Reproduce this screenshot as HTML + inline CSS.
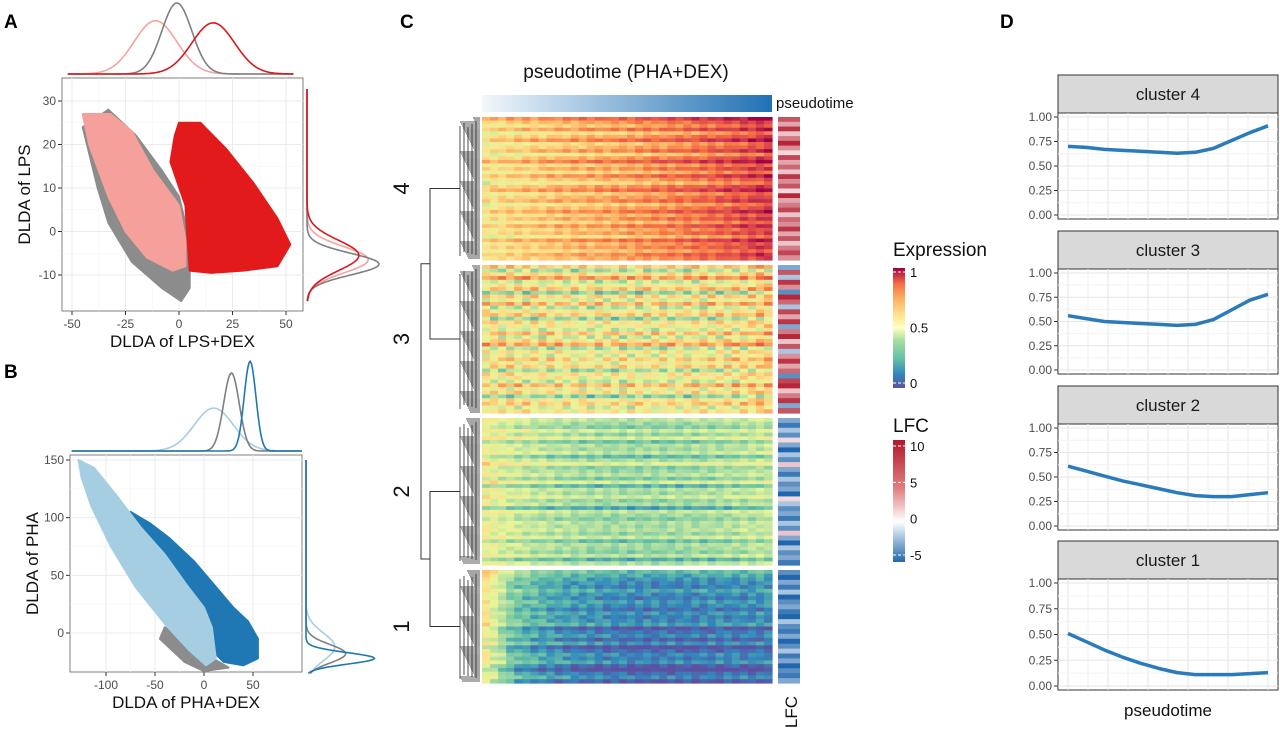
<!DOCTYPE html>
<html><head><meta charset="utf-8">
<style>
body{margin:0;background:#fff;font-family:"Liberation Sans",sans-serif;}
svg{display:block}
</style></head>
<body>
<svg id="fig" width="1280" height="733" viewBox="0 0 1280 733" xmlns="http://www.w3.org/2000/svg" font-family="Liberation Sans, sans-serif">
<g id="A"></g>
<g id="B"></g>
<g id="C"></g>
<g id="D"></g>
</svg>
<script>
// ---------- DATA ----------
const aGreyHull=[[-33,28],[-20,22],[-8,14],[0,8],[5,-2],[5,-13],[1,-16],[-8,-13],[-22,-7],[-33,2],[-38,10],[-45,24]];
const aPinkHull=[[-45,27],[-32,27],[-22,23],[-12,14],[0,6],[3,-2],[3,-8],[-3,-9],[-15,-6],[-25,0],[-33,8],[-42,20]];
const aRedHull=[[-2,22],[0,25],[10,25],[22,19],[35,11],[46,3],[52,-3],[46,-8],[30,-9],[15,-9.5],[5,-9],[4,-2],[3,6],[-4,16]];
const aTopDens={grey:[-1,7,1.0],pink:[-11,10,0.75],red:[16,10,0.72]};
const aRightDens={grey:[-7.5,2.5,1.0],pink:[-6.5,3,0.85],red:[-5.5,3.5,0.72]};
const aXTicks=[-50,-25,0,25,50], aYTicks=[-10,0,10,20,30];
const bGreyHull=[[-40,5],[-15,-8],[5,-20],[25,-30],[0,-33],[-20,-25],[-45,-5]];
const bBlueHull=[[-75,105],[-55,95],[-35,82],[-10,62],[10,42],[30,22],[45,10],[55,-5],[55,-22],[40,-28],[20,-25],[8,-15],[-5,-2],[-25,20],[-50,50],[-65,80]];
const bLightHull=[[-128,150],[-112,143],[-90,120],[-65,92],[-40,68],[-18,42],[0,22],[8,5],[12,-22],[2,-28],[-15,-15],[-40,8],[-70,40],[-95,75],[-115,110],[-125,135]];
const bTopDens={grey:[28,8,1.0],light:[10,20,0.55],blue:[47,6,1.15]};
const bRightDens={grey:[-18,8,0.55],light:[-12,12,0.4],blue:[-22,5,0.95]};
const bXTicks=[-100,-50,0,50], bYTicks=[0,50,100,150];
const clusterNames=["4","3","2","1"];
const colProfiles=[
 [0.5,0.54,0.57,0.6,0.62,0.64,0.67,0.7,0.73,0.77,0.81,0.86],
 [0.5,0.5,0.49,0.48,0.47,0.47,0.48,0.48,0.49,0.5,0.52,0.58],
 [0.46,0.4,0.36,0.34,0.32,0.31,0.31,0.31,0.32,0.33,0.35,0.37],
 [0.52,0.27,0.2,0.16,0.14,0.12,0.11,0.11,0.11,0.12,0.12,0.13]];
const rowOffsets=[
 [0.15,0.05,-0.02,0.1,-0.08,0.02,0.12,-0.05,0.0,0.08,-0.1,0.04,0.14,-0.03,0.06,-0.06,0.1,0.0,-0.09,0.05,0.12,-0.04,0.03,0.08,-0.07,0.02,0.1,-0.02,0.06,-0.05,0.09,-0.01,0.04,-0.08,0.11,0.0,0.05,-0.04,0.07,0.02],
 [0.1,-0.15,0.05,0.2,-0.1,0.0,0.12,-0.2,0.08,-0.05,0.15,-0.12,0.02,0.1,-0.18,0.05,0.0,-0.08,0.12,-0.1,0.06,0.18,-0.14,0.03,-0.06,0.1,-0.02,0.08,-0.16,0.04,0.0,-0.1,0.14,-0.04,0.06,-0.2,0.02,0.09,-0.07,0.03],
 [0.05,0.0,-0.05,0.08,-0.02,0.1,-0.08,0.03,0.0,0.06,-0.1,0.02,0.12,-0.04,0.0,0.05,-0.06,0.1,-0.12,0.04,0.0,0.08,-0.03,0.02,-0.15,0.06,0.0,-0.05,0.03,0.01,0.04,-0.02,0.07,-0.09,0.02,0.0,-0.04,0.05,-0.13,0.03],
 [0.1,0.06,0.02,0.0,-0.02,0.05,0.0,-0.03,0.03,0.0,-0.05,0.02,-0.02,0.0,0.04,-0.1,-0.04,0.0,-0.08,0.02,-0.12,-0.06,0.0,-0.03,0.02,-0.09,-0.14,-0.05,0.0,-0.1]];
const colNoise=[0.0,0.04,-0.03,0.05,-0.02,0.03,-0.05,0.02,0.0,-0.04,0.03,-0.01,0.05,-0.03,0.02,0.0,-0.02,0.04,-0.05,0.01,0.03,-0.02,0.0,0.04,-0.03,0.02,0.05,-0.04,0.01,-0.02,0.03,0.0,-0.05,0.02,0.04,-0.01];
const lfcRows=[
 [6,2,8,1,4,9,3,0.5,7,2,5,1,8,3,6,0.5,9,2,4,7,1,5,3,8,2,6,1,4,7,3],
 [-2,6,-1,8,3,-3,9,5,-1,7,2,8,-2,4,9,1,6,-1,3,8,2,5,-3,7,9,1,4,8,-2,6],
 [-2,-4,-1,-3,0.5,-2,-5,-1,-3,1,-2,-4,-1,-3,-2,-5,0.5,-1,-3,-2,-4,-1,-3,1,-2,-5,-1,-3,-2,-4],
 [-3,-5,-2,-4,-1,-5,-3,-2,-4,-5,-1,-3,-4,-2,-5,-3,-1,-4,-2,-5,-3,-4,-2]];
const exprTicks=[0,0.5,1], lfcTicks=[-5,0,5,10];
const dClusters=["cluster 4","cluster 3","cluster 2","cluster 1"];
const dCurves=[
 [0.70,0.69,0.67,0.66,0.65,0.64,0.63,0.64,0.68,0.76,0.84,0.91],
 [0.56,0.53,0.50,0.49,0.48,0.47,0.46,0.47,0.52,0.62,0.72,0.78],
 [0.61,0.56,0.51,0.46,0.42,0.38,0.34,0.31,0.30,0.30,0.32,0.34],
 [0.51,0.43,0.35,0.28,0.22,0.17,0.13,0.11,0.11,0.11,0.12,0.13]];
const dYTicks=[0,0.25,0.5,0.75,1];

// ---------- HELPERS ----------
const NS="http://www.w3.org/2000/svg";
function mk(parent,tag,attrs,text){const e=document.createElementNS(NS,tag);for(const k in attrs)e.setAttribute(k,attrs[k]);if(text!==undefined)e.textContent=text;parent.appendChild(e);return e;}
function lin(d0,d1,r0,r1){return v=>r0+(v-d0)/(d1-d0)*(r1-r0);}
function gauss(x,m,s){return Math.exp(-0.5*((x-m)/s)**2);}
function spectral(v){
 const st=[[94,79,162],[50,136,189],[102,194,165],[171,221,164],[230,245,152],[254,224,139],[253,174,97],[244,109,67],[213,62,79],[158,1,66]];
 v=Math.max(0,Math.min(1,v))*(st.length-1);const i=Math.min(st.length-2,Math.floor(v)),f=v-i;
 const c=st[i].map((a,j)=>Math.round(a+(st[i+1][j]-a)*f));return `rgb(${c})`;}
function lfcColor(v){
 if(v>=0){const f=Math.min(1,v/10);const a=[255,255,255],b=[178,24,43];return `rgb(${a.map((x,j)=>Math.round(x+(b[j]-x)*Math.pow(f,0.6)))})`;}
 const f=Math.min(1,-v/5);const a=[255,255,255],b=[33,102,172];return `rgb(${a.map((x,j)=>Math.round(x+(b[j]-x)*Math.pow(f,0.6)))})`;}

function scatterPanel(g,o){
 const bg=mk(g,'rect',{x:o.x0,y:o.y0,width:o.x1-o.x0,height:o.y1-o.y0,fill:'#fff',stroke:'#7f7f7f','stroke-width':1});
 
 const sx=lin(o.xd[0],o.xd[1],o.xr[0],o.xr[1]), sy=lin(o.yd[0],o.yd[1],o.yr[0],o.yr[1]);
 o.xt.forEach((t,i)=>{mk(g,'line',{x1:sx(t),x2:sx(t),y1:o.y0,y2:o.y1,stroke:'#ebebeb','stroke-width':1});
   if(i<o.xt.length-1){const m=(t+o.xt[i+1])/2;mk(g,'line',{x1:sx(m),x2:sx(m),y1:o.y0,y2:o.y1,stroke:'#f4f4f4','stroke-width':0.6});}});
 o.yt.forEach((t,i)=>{mk(g,'line',{x1:o.x0,x2:o.x1,y1:sy(t),y2:sy(t),stroke:'#ebebeb','stroke-width':1});
   if(i<o.yt.length-1){const m=(t+o.yt[i+1])/2;mk(g,'line',{x1:o.x0,x2:o.x1,y1:sy(m),y2:sy(m),stroke:'#f4f4f4','stroke-width':0.6});}});
 o.clouds.forEach(c=>{const p=mk(g,'polygon',{points:c.hull.map(q=>sx(q[0])+','+sy(q[1])).join(' '),fill:c.col,stroke:c.col,'stroke-width':2,'stroke-linejoin':'round'});
   });
 o.xt.forEach(t=>{mk(g,'line',{x1:sx(t),x2:sx(t),y1:o.y1,y2:o.y1+4,stroke:'#333'});
   const tx=mk(g,'text',{x:sx(t),y:o.y1+17,'text-anchor':'middle','font-size':12,fill:'#4d4d4d'},String(t));
   });
 o.yt.forEach(t=>{mk(g,'line',{x1:o.x0-4,x2:o.x0,y1:sy(t),y2:sy(t),stroke:'#333'});
   const tx=mk(g,'text',{x:o.x0-6,y:sy(t)+4,'text-anchor':'end','font-size':12,fill:'#4d4d4d'},String(t));
   });
 const xl=mk(g,'text',{x:(o.x0+o.x1)/2,y:o.y1+36,'text-anchor':'middle','font-size':17,fill:'#111'},o.xlab);
 
 const yl=mk(g,'text',{x:0,y:0,'text-anchor':'middle','font-size':17,fill:'#111',transform:`translate(${o.x0-32},${(o.y0+o.y1)/2}) rotate(-90)`},o.ylab);
 
 const topBase=o.y0-4, H=o.y0-o.topTop-4;
 o.topD.forEach(d=>{let pts=[];for(let v=o.tr[0];v<=o.tr[1];v+=(o.tr[1]-o.tr[0])/200){pts.push(sx(v)+','+(topBase-d.p[2]*H*gauss(v,d.p[0],d.p[1])));}
   const l=mk(g,'polyline',{points:pts.join(' '),fill:'none',stroke:d.col,'stroke-width':1.6});
   });
 const rBase=o.x1+4, W=o.rightW;
 o.rightD.forEach(d=>{let pts=[];for(let v=o.rr[0];v<=o.rr[1];v+=(o.rr[1]-o.rr[0])/200){pts.push((rBase+d.p[2]*W*gauss(v,d.p[0],d.p[1]))+','+sy(v));}
   const l=mk(g,'polyline',{points:pts.join(' '),fill:'none',stroke:d.col,'stroke-width':1.6});
   });
}

const A=document.getElementById('A');
scatterPanel(A,{x0:62,x1:303,y0:78,y1:311,xd:[-50,50],xr:[72,286],yd:[-10,30],yr:[275,101],xt:aXTicks,yt:aYTicks,
 clouds:[{hull:aGreyHull,col:'#8c8c8c',name:'cloud-grey'},{hull:aPinkHull,col:'#f5a09a',name:'cloud-lps'},{hull:aRedHull,col:'#e31a1c',name:'cloud-lps-dex'}],
 xlab:'DLDA of LPS+DEX',ylab:'DLDA of LPS',topTop:3,rightW:72,tr:[-52,54],rr:[-16,33],
 topD:[{p:aTopDens.pink,col:'#f4a3a0',name:'lps'},{p:aTopDens.grey,col:'#7f7f7f',name:'grey'},{p:aTopDens.red,col:'#d7191c',name:'lps-dex'}],
 rightD:[{p:aRightDens.pink,col:'#f4a3a0',name:'lps'},{p:aRightDens.grey,col:'#7f7f7f',name:'grey'},{p:aRightDens.red,col:'#d7191c',name:'lps-dex'}]});
mk(A,'text',{x:4,y:28,'font-size':19,'font-weight':'bold'},'A');
const B=document.getElementById('B');
scatterPanel(B,{x0:70,x1:302,y0:455,y1:672,xd:[-100,50],xr:[106,253],yd:[0,150],yr:[633,460],xt:bXTicks,yt:bYTicks,
 clouds:[{hull:bGreyHull,col:'#8c8c8c',name:'cloud-grey'},{hull:bBlueHull,col:'#1f78b4',name:'cloud-pha-dex'},{hull:bLightHull,col:'#a6cee3',name:'cloud-pha'}],
 xlab:'DLDA of PHA+DEX',ylab:'DLDA of PHA',topTop:373,rightW:72,tr:[-135,100],rr:[-35,150],
 topD:[{p:bTopDens.light,col:'#a6cee3',name:'pha'},{p:bTopDens.grey,col:'#7f7f7f',name:'grey'},{p:bTopDens.blue,col:'#1f78b4',name:'pha-dex'}],
 rightD:[{p:bRightDens.light,col:'#a6cee3',name:'pha'},{p:bRightDens.grey,col:'#7f7f7f',name:'grey'},{p:bRightDens.blue,col:'#1f78b4',name:'pha-dex'}]});
mk(B,'text',{x:4,y:378,'font-size':19,'font-weight':'bold'},'B');

const C=document.getElementById('C');
mk(C,'text',{x:400,y:28,'font-size':19,'font-weight':'bold'},'C');
const ttl=mk(C,'text',{x:626,y:78,'text-anchor':'middle','font-size':19,fill:'#111'},'pseudotime (PHA+DEX)');

mk(C,'defs',{}).innerHTML='<linearGradient id="pt" x1="0" x2="1"><stop offset="0" stop-color="#f2f7fc"/><stop offset="1" stop-color="#2171b5"/></linearGradient>'+
 '<linearGradient id="eg" x1="0" x2="0" y1="1" y2="0"><stop offset="0" stop-color="#5e4fa2"/><stop offset="0.12" stop-color="#3288bd"/><stop offset="0.25" stop-color="#66c2a5"/><stop offset="0.4" stop-color="#abdda4"/><stop offset="0.5" stop-color="#ffffbf"/><stop offset="0.62" stop-color="#fee08b"/><stop offset="0.75" stop-color="#fdae61"/><stop offset="0.87" stop-color="#f46d43"/><stop offset="1" stop-color="#9e0142"/></linearGradient>'+
 '<linearGradient id="lg" x1="0" x2="0" y1="1" y2="0"><stop offset="0" stop-color="#2166ac"/><stop offset="0.33" stop-color="#ffffff"/><stop offset="0.6" stop-color="#e08080"/><stop offset="1" stop-color="#b2182b"/></linearGradient>';
const ptb=mk(C,'rect',{x:482,y:95,width:290,height:17,fill:'url(#pt)'});
mk(C,'text',{x:776,y:108,'font-size':15,fill:'#111'},'pseudotime');
const hx0=482,hx1=772, nCols=colNoise.length, cw=(hx1-hx0)/nCols;
const blocks=[[117,260],[265,413],[418,565],[570,683]];
blocks.forEach((bl,ci)=>{
 const rows=rowOffsets[ci], rh=(bl[1]-bl[0])/rows.length;
 rows.forEach((off,ri)=>{
   for(let c=0;c<nCols;c++){
     const pIdx=c*(colProfiles[ci].length-1)/(nCols-1), i0=Math.floor(pIdx), f=pIdx-i0;
     const base=colProfiles[ci][i0]+(i0+1<colProfiles[ci].length?(colProfiles[ci][i0+1]-colProfiles[ci][i0])*f:0);
     const v=base+off+colNoise[(c+ri*7)%nCols]*(ci==1?2:1);
     const r=mk(C,'rect',{x:hx0+c*cw,y:bl[0]+ri*rh,width:cw+0.6,height:rh+0.6,fill:spectral(v)});
     
     
   }
 });
 const lr_=lfcRows[ci], lh=(bl[1]-bl[0])/lr_.length;
 lr_.forEach((lv,ri)=>{
   const lr=mk(C,'rect',{x:778,y:bl[0]+ri*lh,width:22,height:lh+0.6,fill:lfcColor(lv)});
   
   
 });
 const lab=mk(C,'text',{x:0,y:0,'text-anchor':'middle','font-size':22,fill:'#111',transform:`translate(409,${(bl[0]+bl[1])/2}) rotate(-90)`},clusterNames[ci]);
 
 for(let y=bl[0]+1;y<bl[1];y+=2){const w=6+((y*7)%15);mk(C,'line',{x1:480-w,x2:480,y1:y,y2:y,stroke:'#222','stroke-width':0.8});}
 for(let x=460;x<480;x+=4){mk(C,'line',{x1:x,x2:x,y1:bl[0]+4+(x%7),y2:bl[1]-4-(x%5),stroke:'#222','stroke-width':0.8});}
});
const mids=blocks.map(b=>(b[0]+b[1])/2);
const dg=mk(C,'g',{stroke:'#333','stroke-width':1,fill:'none'});
mk(dg,'path',{d:`M460 ${mids[0]}H430V${mids[1]}H460 M460 ${mids[2]}H430V${mids[3]}H460 M430 ${(mids[0]+mids[1])/2}H421V${(mids[2]+mids[3])/2}H430`});
const lfcl=mk(C,'text',{x:0,y:0,'text-anchor':'middle','font-size':17,fill:'#111',transform:'translate(797,712) rotate(-90)'},'LFC');

const lgE=mk(C,'g',{});
mk(lgE,'text',{x:893,y:256,'font-size':19,fill:'#111'},'Expression');
mk(lgE,'rect',{x:893,y:268,width:12,height:120,fill:'url(#eg)'});
const eY=lin(0,1,383,272);
exprTicks.forEach(t=>{mk(lgE,'line',{x1:893,x2:905,y1:eY(t),y2:eY(t),stroke:'#fff','stroke-dasharray':'3 2'});mk(lgE,'text',{x:910,y:eY(t)+5,'font-size':13,fill:'#111'},String(t));});
const lgL=mk(C,'g',{});
mk(lgL,'text',{x:893,y:432,'font-size':19,fill:'#111'},'LFC');
mk(lgL,'rect',{x:893,y:440,width:12,height:122,fill:'url(#lg)'});
const lY=lin(-5,10,555,446);
lfcTicks.forEach(t=>{mk(lgL,'line',{x1:893,x2:905,y1:lY(t),y2:lY(t),stroke:'#fff','stroke-dasharray':'3 2'});mk(lgL,'text',{x:910,y:lY(t)+5,'font-size':13,fill:'#111'},String(t));});

const D=document.getElementById('D');
mk(D,'text',{x:1000,y:28,'font-size':19,'font-weight':'bold'},'D');
const facets=[[75,113,219],[231,269,374],[386,424,530],[541,579,690]];
const px0=1058,px1=1278;
facets.forEach((f,i)=>{
 const g=mk(D,'g',{});
 mk(g,'rect',{x:px0,y:f[0],width:px1-px0,height:f[1]-f[0],fill:'#d9d9d9',stroke:'#333','stroke-width':1});
 mk(g,'text',{x:(px0+px1)/2,y:f[0]+25,'text-anchor':'middle','font-size':17,fill:'#1a1a1a'},dClusters[i]);
 mk(g,'rect',{x:px0,y:f[1],width:px1-px0,height:f[2]-f[1],fill:'#fff',stroke:'#333','stroke-width':1});
 const sy=lin(0,1,f[2]-4,f[1]+4), sx=lin(0,dCurves[i].length-1,px0+10,px1-10);
 for(let k=0;k<=10;k++){const x=px0+10+k*(px1-px0-20)/10;mk(g,'line',{x1:x,x2:x,y1:f[1],y2:f[2],stroke:k%2?'#f2f2f2':'#e6e6e6'});}
 dYTicks.forEach((t,k)=>{mk(g,'line',{x1:px0,x2:px1,y1:sy(t),y2:sy(t),stroke:'#e6e6e6'});
   if(k<4)mk(g,'line',{x1:px0,x2:px1,y1:sy(t+0.125),y2:sy(t+0.125),stroke:'#f2f2f2'});
   mk(g,'line',{x1:px0-4,x2:px0,y1:sy(t),y2:sy(t),stroke:'#333'});
   mk(g,'text',{x:px0-6,y:sy(t)+4,'text-anchor':'end','font-size':12,fill:'#4d4d4d'},t.toFixed(2));});
 const pl=mk(g,'polyline',{points:dCurves[i].map((v,k)=>sx(k)+','+sy(v)).join(' '),fill:'none',stroke:'#2b7bba','stroke-width':3.5,'stroke-linejoin':'round'});
 
});
const dx=mk(D,'text',{x:1168,y:716,'text-anchor':'middle','font-size':17,fill:'#111'},'pseudotime');

</script>
</body></html>
